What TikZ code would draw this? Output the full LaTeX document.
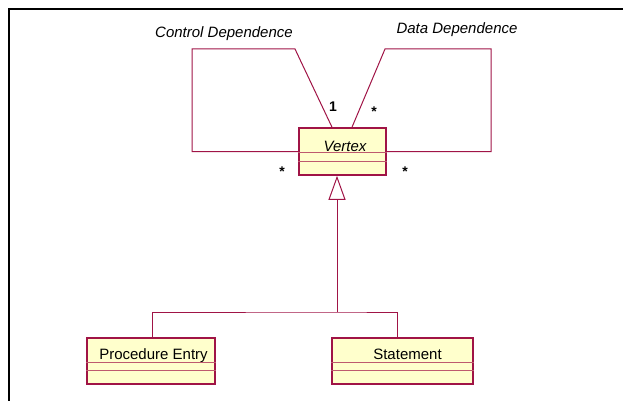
\documentclass[tikz,border=0pt]{standalone}
\usepackage{fontspec}
\setmainfont{Liberation Sans}
\usetikzlibrary{arrows.meta,positioning}
\usepackage{xcolor}
\definecolor{umlline}{RGB}{160,20,70}
\definecolor{umlsep}{RGB}{190,90,110}
\definecolor{umlfill}{RGB}{255,255,204}

\begin{document}
\begin{tikzpicture}[x=1pt,y=-1pt]
      \tikzstyle{classbox} = [draw=umlline, fill=umlfill, line width=1.6pt, inner sep=0pt]
      \tikzstyle{classname} = [anchor=base, inner sep=0pt, font=\fontsize{15}{18}\selectfont]
      \tikzstyle{rolename} = [inner sep=0pt, font=\fontsize{15}{18}\selectfont\itshape]
      \tikzstyle{mult} = [inner sep=0pt, font=\fontsize{14}{16}\selectfont\bfseries]
      \tikzstyle{assoc} = [draw=umlline, line width=1pt]
      \tikzstyle{sep} = [draw=umlsep, line width=1.4pt]

      \useasboundingbox (0,0) rectangle (623,401);
      \draw[line width=2pt] (9,401) -- (9,9) -- (623,9);

      \node[classbox, minimum width=87pt, minimum height=47pt] (vertex) at (342.5,151.5) {};
      \node[classbox, minimum width=128pt, minimum height=46pt] (pentry) at (151,361) {};
      \node[classbox, minimum width=141pt, minimum height=46pt] (stmt) at (402.5,361) {};

      \node[classname, font=\fontsize{15}{18}\selectfont\itshape] (vertexname) at (345,151) {Vertex};
      \node[classname] (pentryname) at (153.5,359) {Procedure Entry};
      \node[classname] (stmtname) at (407.5,359) {Statement};

      \foreach \cls/\a/\b in {vertex/25/34, pentry/25/33, stmt/25/33} {
        \draw[sep] ([yshift=-\a pt]\cls.north west) -- ([yshift=-\a pt]\cls.north east);
        \draw[sep] ([yshift=-\b pt]\cls.north west) -- ([yshift=-\b pt]\cls.north east);
      }

      \coordinate (join) at (337,312);
      \draw[assoc] (vertex.west) -| (192,49) -- (295,49) -- ([xshift=-10.5pt]vertex.north);
      \draw[assoc] (vertex.east) -| (491,49) -- (385,49) -- ([xshift=9.5pt]vertex.north);
      \draw[assoc] ([xshift=1pt]pentry.north) |- (join) -| ([xshift=-5.5pt]stmt.north);
      \draw[assoc, -{Triangle[open, length=24pt, width=17pt, line width=1pt]}] (join) -- ([xshift=-5.5pt]vertex.south);

      \node[rolename] (ctrl) at (224,34) {Control Dependence};
      \node[rolename] (data) at (457,30) {Data Dependence};
      \node[mult] (m1) at (333,107) {1};
      \node[mult] (m2) at (374,112) {*};
      \node[mult] (m3) at (282,172) {*};
      \node[mult] (m4) at (405,172) {*};
    \end{tikzpicture}
\end{document}
